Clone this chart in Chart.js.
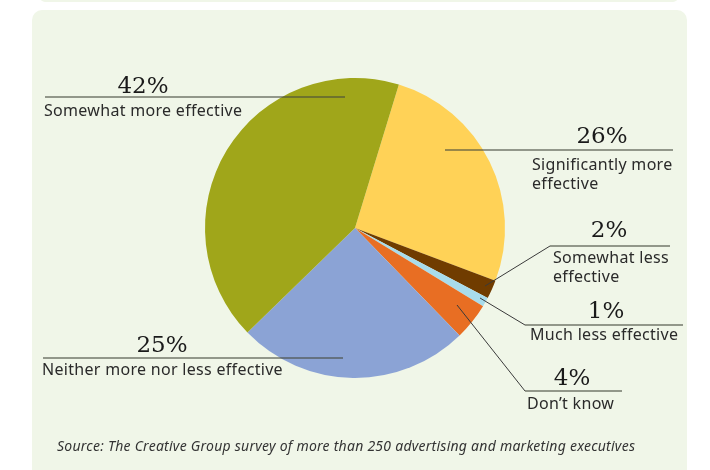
<!DOCTYPE html>
<html>
<head>
<meta charset="utf-8">
<script src="https://cdn.jsdelivr.net/npm/chart.js@4"></script>
<style>
  body { margin: 0; background: #fff; }
  #wrap { position: relative; width: 710px; height: 470px; overflow: hidden; }
  .panel { position: absolute; background: #f0f6e8; }
  #strip { left: 40px; top: -8px; width: 638px; height: 10px; border-radius: 8px; }
  #box { left: 32px; top: 10px; width: 655px; height: 480px; border-radius: 10px; }
  #pie { position: absolute; left: 0; top: 0; }
  #source {
    position: absolute; left: 57px; top: 436px; letter-spacing: 0.25px;
    font: italic 14px "Noto Sans", sans-serif; color: #333;
  }
</style>
</head>
<body>
<div id="wrap">
  <div class="panel" id="strip"></div>
  <div class="panel" id="box"></div>
  <canvas id="pie" width="710" height="470"></canvas>
  <div id="source">Source: The Creative Group survey of more than 250 advertising and marketing executives</div>
</div>
<script>
const categories = [
  ["Significantly more", "effective"],
  ["Somewhat less", "effective"],
  ["Much less effective"],
  ["Don\u2019t know"],
  ["Neither more nor less effective"],
  ["Somewhat more effective"],
];
const shares = [26, 2, 1, 4, 25, 42];
const sliceColors = ["#ffd257", "#703c00", "#a8dcec", "#e86e23", "#8ba3d5", "#a0a61a"];

// where each callout sits: percent text, rule under it, label text, optional pointer into the slice
const callouts = [
  { pctX: 602, pctY: 143, lineY: 150, x1: 445, x2: 673, textX: 532, textY: 170 },
  { pctX: 609, pctY: 237, lineY: 246, x1: 550, x2: 670, textX: 553, textY: 263, tip: [485, 286] },
  { pctX: 606, pctY: 318, lineY: 325, x1: 525, x2: 683, textX: 530, textY: 340, tip: [480, 298] },
  { pctX: 572, pctY: 385, lineY: 391, x1: 525, x2: 622, textX: 527, textY: 409, tip: [457, 305] },
  { pctX: 162, pctY: 352, lineY: 358, x1: 43, x2: 343, textX: 42, textY: 375 },
  { pctX: 143, pctY: 93, lineY: 97, x1: 45, x2: 345, textX: 44, textY: 116 },
];

const calloutPlugin = {
  id: "callouts",
  afterDraw(chart) {
    const ctx = chart.ctx;
    const labels = chart.data.labels;
    const values = chart.data.datasets[0].data;
    ctx.save();
    callouts.forEach((c, i) => {
      // pointer from the elbow into the slice
      if (c.tip) {
        ctx.strokeStyle = "#3a3a3a";
        ctx.lineWidth = 1;
        ctx.beginPath();
        ctx.moveTo(c.x1, c.lineY);
        ctx.lineTo(c.tip[0], c.tip[1]);
        ctx.stroke();
      }
      ctx.strokeStyle = "rgba(70, 72, 60, 0.55)";
      ctx.lineWidth = 2;
      ctx.beginPath();
      ctx.moveTo(c.x1, c.lineY);
      ctx.lineTo(c.x2, c.lineY);
      ctx.stroke();

      ctx.fillStyle = "#1a1a1a";
      ctx.textAlign = "center";
      ctx.textBaseline = "alphabetic";
      ctx.letterSpacing = "0px";
      ctx.font = '23px "DejaVu Serif", serif';
      ctx.fillText(values[i] + "%", c.pctX, c.pctY);

      ctx.textAlign = "left";
      ctx.letterSpacing = "0.3px";
      ctx.font = '16px "Noto Sans", sans-serif';
      ctx.fillStyle = "#2a2a2a";
      labels[i].forEach((line, k) => ctx.fillText(line, c.textX, c.textY + k * 19));
    });
    ctx.restore();
  },
};

new Chart(document.getElementById("pie"), {
  type: "pie",
  data: {
    labels: categories,
    datasets: [
      {
        data: shares,
        backgroundColor: sliceColors,
        borderWidth: 0,
      },
    ],
  },
  options: {
    responsive: false,
    animation: false,
    rotation: 17,
    layout: {
      padding: { left: 205, right: 205, top: 78, bottom: 92 },
    },
    plugins: {
      legend: { display: false },
      tooltip: { enabled: false },
    },
  },
  plugins: [calloutPlugin],
});
</script>
</body>
</html>
